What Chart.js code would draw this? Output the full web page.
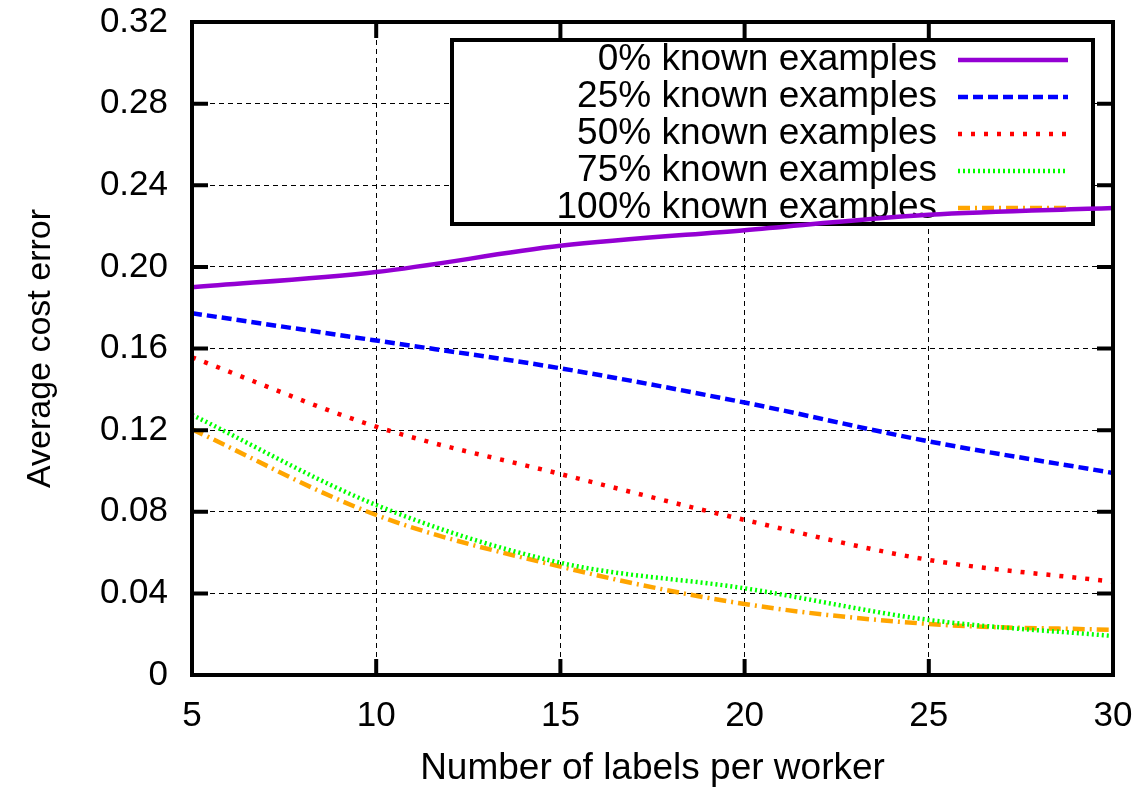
<!DOCTYPE html>
<html>
<head>
<meta charset="utf-8">
<script src="https://cdn.jsdelivr.net/npm/chart.js@4"></script>
<style>
  html, body { margin: 0; padding: 0; background: #fff; }
  #wrap { width: 1137px; height: 789px; }
</style>
</head>
<body>
<div id="wrap"><canvas id="costChart" width="1137" height="789"></canvas></div>
<script>
const labelsPerWorker = [5, 10, 15, 20, 25, 30];
const known0   = [0.190, 0.1975, 0.2103, 0.218, 0.2255, 0.2288];
const known25  = [0.1773, 0.1639, 0.1503, 0.1335, 0.1145, 0.099];
const known50  = [0.1557, 0.1217, 0.0985, 0.076, 0.0564, 0.0457];
const known75  = [0.1275, 0.0833, 0.055, 0.0425, 0.027, 0.0191];
const known100 = [0.1204, 0.0784, 0.0531, 0.0348, 0.025, 0.0221];
const yTicks = [0, 0.04, 0.08, 0.12, 0.16, 0.20, 0.24, 0.28, 0.32];

const FONT = "'Liberation Sans', Arial, Helvetica, sans-serif";

function pts(ys) {
  return labelsPerWorker.map((x, i) => ({ x: x, y: ys[i] }));
}

function series(label, ys, color, dash) {
  return {
    label: label,
    data: pts(ys),
    borderColor: color,
    backgroundColor: color,
    borderWidth: 4.5,
    borderDash: dash,
    pointRadius: 0,
    cubicInterpolationMode: 'monotone',
    fill: false
  };
}

// legend box drawn gnuplot style (text right aligned, sample on the right)
const keyBox = {
  id: 'keyBox',
  beforeDatasetsDraw(chart) {
    const { ctx, chartArea } = chart;
    const right = chartArea.right - 20;
    const left = chartArea.right - 661;
    const top = chartArea.top + 18;
    const h = 184;
    ctx.save();
    ctx.fillStyle = '#fff';
    ctx.fillRect(left, top, right - left, h);
    ctx.lineWidth = 4;
    ctx.strokeStyle = '#000';
    ctx.strokeRect(left, top, right - left, h);
    ctx.font = '37px ' + FONT;
    ctx.textAlign = 'right';
    ctx.textBaseline = 'middle';
    chart.data.datasets.forEach((ds, i) => {
      const y = top + 20 + i * 37;
      ctx.fillStyle = '#000';
      ctx.fillText(ds.label, right - 156, y);
      ctx.beginPath();
      ctx.strokeStyle = ds.borderColor;
      ctx.lineWidth = ds.borderWidth;
      ctx.setLineDash(ds.borderDash || []);
      ctx.moveTo(right - 135, y);
      ctx.lineTo(right - 25, y);
      ctx.stroke();
      ctx.setLineDash([]);
    });
    ctx.restore();
  }
};

// frame with inward tick marks on all four sides
const frame = {
  id: 'frame',
  afterDraw(chart) {
    const { ctx, chartArea: a, scales } = chart;
    ctx.save();
    ctx.strokeStyle = '#000';
    ctx.lineWidth = 4;
    ctx.strokeRect(a.left, a.top, a.right - a.left, a.bottom - a.top);
    ctx.beginPath();
    yTicks.forEach(v => {
      const y = scales.y.getPixelForValue(v);
      ctx.moveTo(a.left, y); ctx.lineTo(a.left + 16, y);
      ctx.moveTo(a.right, y); ctx.lineTo(a.right - 16, y);
    });
    labelsPerWorker.forEach(v => {
      const x = scales.x.getPixelForValue(v);
      ctx.moveTo(x, a.bottom); ctx.lineTo(x, a.bottom - 16);
      ctx.moveTo(x, a.top); ctx.lineTo(x, a.top + 16);
    });
    ctx.stroke();
    ctx.restore();
  }
};

new Chart(document.getElementById('costChart').getContext('2d'), {
  type: 'line',
  data: {
    datasets: [
      series('0% known examples', known0, '#9400d3', []),
      series('25% known examples', known25, '#0000ff', [10, 5]),
      series('50% known examples', known50, '#ff0000', [4, 9]),
      series('75% known examples', known75, '#00ff00', [2, 3]),
      series('100% known examples', known100, '#ffa500', [12, 5, 2, 5])
    ]
  },
  options: {
    responsive: false,
    animation: false,
    layout: { padding: { top: 22, right: 24, left: 16, bottom: 0 } },
    plugins: {
      legend: { display: false },
      tooltip: { enabled: false }
    },
    scales: {
      x: {
        type: 'linear',
        min: 5,
        max: 30,
        afterFit(scale) {
          scale.height = 114;
          scale.paddingLeft = 0;
          scale.paddingRight = 0;
        },
        ticks: {
          stepSize: 5,
          color: '#000',
          padding: 20,
          font: { family: FONT, size: 35 }
        },
        grid: { color: '#000', lineWidth: 1, drawTicks: false },
        border: { display: false, dash: [5, 4] },
        title: {
          display: true,
          text: 'Number of labels per worker',
          color: '#000',
          padding: { top: 20, bottom: -2 },
          font: { family: FONT, size: 37 }
        }
      },
      y: {
        min: 0,
        max: 0.32,
        afterFit(scale) {
          scale.width = 176;
          scale.paddingTop = 0;
          scale.paddingBottom = 0;
        },
        afterBuildTicks(scale) { scale.ticks = yTicks.map(v => ({ value: v })); },
        ticks: {
          color: '#000',
          padding: 24,
          font: { family: FONT, size: 35 },
          callback: v => v === 0 ? '0' : v.toFixed(2)
        },
        grid: { color: '#000', lineWidth: 1, drawTicks: false },
        border: { display: false, dash: [5, 4] },
        title: {
          display: true,
          text: 'Average cost error',
          color: '#000',
          padding: { bottom: 10 },
          font: { family: FONT, size: 34 }
        }
      }
    }
  },
  plugins: [keyBox, frame]
});
</script>
</body>
</html>
